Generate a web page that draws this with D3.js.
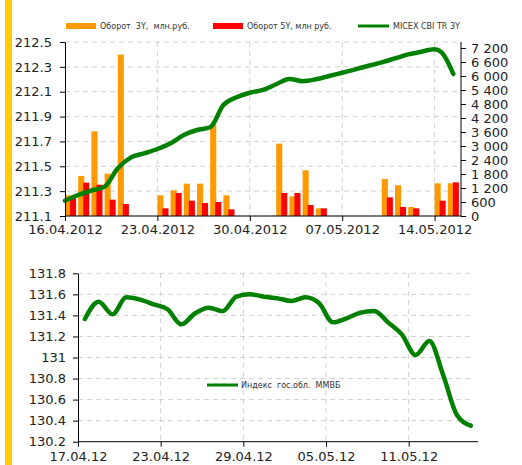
<!DOCTYPE html>
<html><head><meta charset="utf-8">
<script src="https://cdn.jsdelivr.net/npm/d3@7"></script>
<style>
html,body{margin:0;padding:0;background:#fff;}
svg{display:block;font-family:"DejaVu Sans",Verdana,sans-serif;}
text{white-space:pre;}
</style></head><body>
<svg id="c" width="522" height="465"></svg>
<script>
// ---------- DATA ----------
const tradeDates = ["2012-04-16","2012-04-17","2012-04-18","2012-04-19","2012-04-20",
  "2012-04-23","2012-04-24","2012-04-25","2012-04-26","2012-04-27","2012-04-28",
  "2012-05-02","2012-05-03","2012-05-04","2012-05-05",
  "2012-05-10","2012-05-11","2012-05-12","2012-05-14","2012-05-15"];
const turnover3Y = [886,1715,3630,1815,6916, 886,1100,1386,1386,3930,886, 3101,843,1958,329, 1586,1315,386,1400,1400];
const turnover5Y = [760,1429,1343,700,514, 329,986,657,557,600,286, 986,986,472,329, 800,386,329,657,1443];

const cbiDates = ["2012-04-16","2012-04-17","2012-04-18","2012-04-19","2012-04-20","2012-04-21","2012-04-22",
  "2012-04-23","2012-04-24","2012-04-25","2012-04-26","2012-04-27","2012-04-28","2012-04-29","2012-04-30",
  "2012-05-01","2012-05-02","2012-05-03","2012-05-04","2012-05-05","2012-05-06","2012-05-07","2012-05-08",
  "2012-05-09","2012-05-10","2012-05-11","2012-05-12","2012-05-13","2012-05-14","2012-05-14T12:00","2012-05-15T10:00"];
const cbiValues = [211.223,211.269,211.304,211.336,211.484,211.572,211.604,
  211.639,211.685,211.752,211.792,211.814,211.993,212.055,212.092,
  212.114,212.160,212.203,212.185,212.20,212.226,212.253,212.28,
  212.309,212.336,212.368,212.40,212.422,212.441,212.42,212.243];

const leftTicks = [211.1,211.3,211.5,211.7,211.9,212.1,212.3,212.5];
const rightTicks = [0,600,1200,1800,2400,3000,3600,4200,4800,5400,6000,6600,7200];
const topDateTicks = ["2012-04-16","2012-04-23","2012-04-30","2012-05-07","2012-05-14"];

const mmvbDates = ["2012-04-17","2012-04-18","2012-04-19","2012-04-20","2012-04-21","2012-04-22","2012-04-23",
  "2012-04-24","2012-04-25","2012-04-26","2012-04-27","2012-04-28","2012-04-29","2012-04-30",
  "2012-05-01","2012-05-02","2012-05-03","2012-05-04","2012-05-05","2012-05-06","2012-05-07","2012-05-08",
  "2012-05-09","2012-05-10","2012-05-11","2012-05-12","2012-05-13","2012-05-14","2012-05-15"];
const mmvbValues = [131.366,131.53,131.41,131.572,131.55,131.505,131.458,
  131.315,131.42,131.473,131.44,131.578,131.60,131.578,
  131.562,131.537,131.572,131.515,131.334,131.372,131.426,131.442,
  131.334,131.22,131.024,131.157,130.834,130.454,130.352];
const bottomYTicks = [130.2,130.4,130.6,130.8,131,131.2,131.4,131.6,131.8];
const bottomDateTicks = ["2012-04-17","2012-04-23","2012-04-29","2012-05-05","2012-05-11"];

const legendTop = ["Оборот  3Y,  млн.руб.","Оборот 5Y, млн руб.","MICEX CBI TR 3Y"];
const legendBottom = "Индекс  гос.обл.  ММВБ";

// ---------- STYLE ----------
const C_OR = "#ff9900", C_RED = "#ff0000", C_GREEN = "#008000", C_GRID = "#d0d0d0";
const parse = s => new Date(s.length > 10 ? s : s + "T00:00");
const svg = d3.select("#c");

svg.append("rect").attr("x",5).attr("y",0).attr("width",7).attr("height",465).attr("fill","#ffcc00");

// ================= TOP CHART =================
const x1 = d3.scaleTime().domain([parse("2012-04-16"), parse("2012-05-16")]).range([65, 461]);
const yL = d3.scaleLinear().domain([211.1, 212.5]).range([216, 42]);
const yR = d3.scaleLinear().domain([0, 7200]).range([216, 48]);
const dayW = x1(parse("2012-04-17")) - x1(parse("2012-04-16"));

const g1 = svg.append("g");
// grid
g1.selectAll(".hg").data(leftTicks).join("line")
  .attr("x1",65).attr("x2",461).attr("y1",d=>yL(d)).attr("y2",d=>yL(d))
  .attr("stroke",C_GRID).attr("stroke-dasharray","5,4").attr("stroke-width",1);
g1.selectAll(".vg").data(topDateTicks.slice(1)).join("line")
  .attr("x1",d=>x1(parse(d))).attr("x2",d=>x1(parse(d))).attr("y1",42).attr("y2",216)
  .attr("stroke",C_GRID).attr("stroke-dasharray","5,4").attr("stroke-width",1);

// bars
const bw = dayW * 0.46;
g1.selectAll(".b3").data(tradeDates).join("rect")
  .attr("x",(d)=>x1(parse(d))).attr("width",bw)
  .attr("y",(d,i)=>yR(turnover3Y[i])).attr("height",(d,i)=>yR(0)-yR(turnover3Y[i]))
  .attr("fill",C_OR);
g1.selectAll(".b5").data(tradeDates).join("rect")
  .attr("x",(d)=>x1(parse(d))+dayW*0.38).attr("width",bw)
  .attr("y",(d,i)=>yR(turnover5Y[i])).attr("height",(d,i)=>yR(0)-yR(turnover5Y[i]))
  .attr("fill",C_RED);

// line
const line1 = d3.line().x((d,i)=>x1(parse(cbiDates[i]))).y(d=>yL(d)).curve(d3.curveMonotoneX);
g1.append("path").datum(cbiValues).attr("d",line1).attr("fill","none")
  .attr("stroke",C_GREEN).attr("stroke-width",4.5).attr("stroke-linejoin","round").attr("stroke-linecap","round");

// axes
const axL = g1.append("g").attr("transform","translate(65,0)")
  .call(d3.axisLeft(yL).tickValues(leftTicks).tickFormat(d3.format(".1f")).tickSize(5).tickSizeOuter(0));
const axR = g1.append("g").attr("transform","translate(461,0)")
  .call(d3.axisRight(yR).tickValues(rightTicks).tickFormat(d=>d3.format(",")(d).replace(/,/g," ")).tickSize(5).tickSizeOuter(0));
axR.select(".domain").attr("d","M0,42V216");
const axB = g1.append("g").attr("transform","translate(0,216)")
  .call(d3.axisBottom(x1).tickValues(topDateTicks.map(parse)).tickFormat(d3.timeFormat("%d.%m.%Y")).tickSize(5).tickSizeOuter(0));
axB.select(".domain").attr("d","M65,0H461");

[axL,axR,axB].forEach(a=>{
  a.selectAll("text").attr("font-size",13).attr("fill","#222").attr("font-family","DejaVu Sans, Verdana, sans-serif");
  a.select(".domain").attr("stroke","#000");
  a.selectAll(".tick line").attr("stroke","#000");
});
axL.selectAll("text").attr("x",-13);
axR.selectAll("text").attr("x",10);
axB.selectAll("text").attr("y",9);

// top legend
const lg = svg.append("g").attr("font-size",8).attr("fill","#333");
lg.append("rect").attr("x",66).attr("y",23).attr("width",30).attr("height",6).attr("fill",C_OR);
lg.append("text").attr("x",100).attr("y",29).text(legendTop[0]);
lg.append("rect").attr("x",213).attr("y",23).attr("width",30).attr("height",6).attr("fill",C_RED);
lg.append("text").attr("x",247).attr("y",29).text(legendTop[1]);
lg.append("line").attr("x1",358).attr("x2",389).attr("y1",26).attr("y2",26).attr("stroke",C_GREEN).attr("stroke-width",3);
lg.append("text").attr("x",393).attr("y",29).text(legendTop[2]);

// ================= BOTTOM CHART =================
const x2 = d3.scaleTime().domain([parse("2012-04-17"), parse("2012-05-16")]).range([78, 477.6]);
const y2 = d3.scaleLinear().domain([130.2, 131.8]).range([441.7, 273.3]);
const g2 = svg.append("g");
g2.selectAll(".hg").data(bottomYTicks.slice(1)).join("line")
  .attr("x1",78).attr("x2",473).attr("y1",d=>y2(d)).attr("y2",d=>y2(d))
  .attr("stroke",C_GRID).attr("stroke-dasharray","5,4");
g2.selectAll(".vg").data(bottomDateTicks.slice(1)).join("line")
  .attr("x1",d=>x2(parse(d))).attr("x2",d=>x2(parse(d))).attr("y1",273).attr("y2",441.7)
  .attr("stroke",C_GRID).attr("stroke-dasharray","5,4");

const halfDay = (x2(parse("2012-04-18")) - x2(parse("2012-04-17"))) / 2;
const line2 = d3.line().x((d,i)=>x2(parse(mmvbDates[i])) + halfDay).y(d=>y2(d)).curve(d3.curveMonotoneX);
g2.append("path").datum(mmvbValues).attr("d",line2).attr("fill","none")
  .attr("stroke",C_GREEN).attr("stroke-width",4.5).attr("stroke-linejoin","round").attr("stroke-linecap","round");

const bL = g2.append("g").attr("transform","translate(78,0)")
  .call(d3.axisLeft(y2).tickValues(bottomYTicks).tickFormat(d3.format("~f")).tickSize(5).tickSizeOuter(0));
const bB = g2.append("g").attr("transform","translate(0,441.7)")
  .call(d3.axisBottom(x2).tickValues(bottomDateTicks.map(parse)).tickFormat(d3.timeFormat("%d.%m.%y")).tickSize(5).tickSizeOuter(0));
bB.select(".domain").attr("d","M78,0H478");
[bL,bB].forEach(a=>{
  a.selectAll("text").attr("font-size",13).attr("fill","#222").attr("font-family","DejaVu Sans, Verdana, sans-serif");
  a.select(".domain").attr("stroke","#000");
  a.selectAll(".tick line").attr("stroke","#000");
});
bL.selectAll("text").attr("x",-12);
bB.selectAll("text").attr("y",10);

const lg2 = svg.append("g").attr("font-size",8).attr("fill","#333");
lg2.append("line").attr("x1",207).attr("x2",238).attr("y1",385).attr("y2",385).attr("stroke",C_GREEN).attr("stroke-width",3);
lg2.append("text").attr("x",241).attr("y",388).text(legendBottom);
</script></body></html>
